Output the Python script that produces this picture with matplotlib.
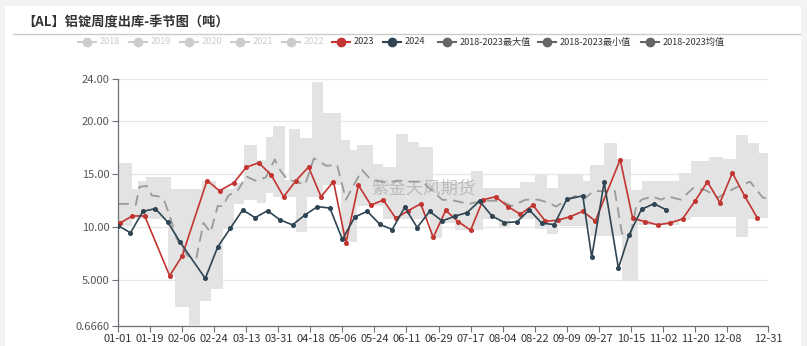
import matplotlib
matplotlib.use('Agg')
import matplotlib.pyplot as plt
import pandas as pd
from matplotlib.lines import Line2D
from matplotlib.patches import Rectangle

plt.rcParams['font.family'] = ['Noto Sans CJK SC', 'DejaVu Sans']

# ---- data ----
dates_2023 = ['01-02', '01-09', '01-16', '01-30', '02-06', '02-20', '02-27', '03-06', '03-13', '03-20',
              '03-27', '04-03', '04-10', '04-17', '04-24', '05-01', '05-08', '05-15', '05-22', '05-29',
              '06-05', '06-12', '06-19', '06-26', '07-03', '07-10', '07-17', '07-24', '07-31', '08-07',
              '08-14', '08-21', '08-28', '09-04', '09-11', '09-18', '09-25', '10-09', '10-16', '10-23',
              '10-30', '11-06', '11-13', '11-20', '11-27', '12-04', '12-11', '12-18', '12-25']
values_2023 = [10.38, 11.06, 11.06, 5.41, 7.28, 14.41, 13.44, 14.19, 15.66, 16.09,
               14.94, 12.88, 14.41, 15.69, 12.88, 14.31, 8.53, 13.97, 12.09, 12.56,
               10.84, 11.56, 12.22, 9.03, 11.59, 10.53, 9.72, 12.59, 12.88, 11.94,
               11.22, 12.09, 10.56, 10.66, 11.00, 11.50, 10.59, 16.38, 10.84, 10.53,
               10.22, 10.41, 10.78, 12.47, 14.28, 12.31, 15.13, 12.91, 10.88]

dates_2024 = ['01-01', '01-08', '01-15', '01-22', '01-29', '02-05', '02-19', '02-26', '03-04', '03-11',
              '03-18', '03-25', '04-01', '04-08', '04-15', '04-22', '04-29', '05-06', '05-13', '05-20',
              '05-27', '06-03', '06-10', '06-17', '06-24', '07-01', '07-08', '07-15', '07-22', '07-29',
              '08-05', '08-12', '08-19', '08-26', '09-02', '09-09', '09-18', '09-23', '09-30', '10-08',
              '10-14', '10-21', '10-28', '11-04']
values_2024 = [10.16, 9.47, 11.50, 11.75, 10.47, 8.56, 5.16, 8.13, 9.88, 11.63,
               10.90, 11.56, 10.69, 10.22, 11.16, 11.94, 11.81, 8.84, 10.97, 11.50,
               10.28, 9.78, 11.88, 9.97, 11.50, 10.59, 11.03, 11.38, 12.47, 11.06,
               10.44, 10.50, 11.63, 10.38, 10.25, 12.63, 12.97, 7.16, 14.25, 6.13,
               9.28, 11.69, 12.22, 11.63]

# 2018-2023 max / min band (step changes)
band_dates = ['01-01', '01-09', '01-12', '01-17', '01-29', '01-31', '02-02', '02-10', '02-16', '02-17',
              '02-22', '02-25', '02-29', '03-06', '03-12', '03-19', '03-24', '03-28', '04-04', '04-06',
              '04-10', '04-12', '04-16', '04-19', '04-25', '05-05', '05-10', '05-14', '05-23', '05-29',
              '06-05', '06-12', '06-18', '06-24', '06-26', '07-01', '07-08', '07-17', '07-24', '08-02',
              '08-08', '08-14', '08-22', '08-29', '09-04', '09-18', '09-22', '09-30', '10-07', '10-10',
              '10-15', '10-19', '10-21', '11-11', '11-18', '11-28', '12-06', '12-13', '12-20', '12-26',
              '12-31']
band_max = [16.1, 13.65, 14.35, 14.7, 14.7, 13.65, 13.65, 13.65, 13.65, 14.4,
            14.4, 13.65, 13.65, 14.2, 17.8, 16.35, 18.5, 19.6, 14.5, 19.25,
            19.25, 18.4, 18.4, 23.7, 20.8, 18.2, 17.3, 17.8, 16.0, 15.66,
            18.8, 18.06, 17.6, 17.6, 14.3, 14.3, 14.3, 15.3, 13.7, 13.7,
            13.7, 14.3, 15.0, 13.7, 15.0, 14.34, 15.9, 17.94, 16.4, 16.4,
            13.56, 13.56, 14.34, 15.1, 16.3, 16.6, 16.4, 18.7, 18.0, 17.0,
            17.0]
band_min = [10.1, 10.8, 10.8, 10.8, 5.4, 5.4, 2.45, 0.8, 3.0, 3.0,
            4.2, 4.2, 9.8, 12.2, 12.6, 12.25, 13.25, 12.84, 12.84, 12.84,
            9.5, 9.5, 12.84, 12.84, 14.0, 8.56, 8.56, 12.0, 12.0, 10.8,
            10.75, 10.75, 10.75, 9.0, 9.0, 10.4, 9.7, 9.7, 10.75, 9.97,
            10.75, 10.75, 9.8, 9.34, 10.1, 10.1, 9.2, 9.2, 9.2, 4.9,
            4.9, 10.2, 10.2, 10.7, 11.0, 11.0, 11.0, 9.1, 10.8, 10.9,
            10.9]

mean_dates = ['01-01', '01-08', '01-11', '01-13', '01-17', '01-20', '01-24', '01-27', '01-30', '02-03',
              '02-09', '02-14', '02-18', '02-22', '02-26', '02-29', '03-03', '03-08', '03-13', '03-18',
              '03-24', '03-29', '04-01', '04-05', '04-10', '04-15', '04-20', '04-27', '05-03', '05-08',
              '05-17', '05-22', '05-31', '06-06', '06-13', '06-20', '06-25', '07-01', '07-08', '07-16',
              '07-24', '08-03', '08-09', '08-17', '08-24', '08-30', '09-03', '09-09', '09-14', '09-19',
              '09-24', '09-29', '10-06', '10-10', '10-15', '10-18', '10-21', '10-27', '11-01', '11-05',
              '11-12', '11-19', '11-26', '12-03', '12-09', '12-15', '12-21', '12-28', '12-31']
mean_vals = [12.2, 12.2, 12.1, 13.8, 13.9, 13.0, 12.9, 12.5, 11.1, 8.9,
             7.3, 7.1, 10.4, 9.5, 12.0, 12.0, 13.0, 13.4, 14.8, 14.4,
             14.7, 16.4, 15.4, 14.5, 14.3, 14.0, 16.5, 15.8, 15.9, 12.6,
             15.4, 14.5, 14.2, 14.4, 14.3, 14.3, 13.5, 12.6, 12.5, 12.2,
             12.5, 12.5, 12.0, 12.6, 12.6, 12.3, 11.95, 12.6, 12.95, 12.7,
             13.4, 13.4, 13.4, 9.4, 9.4, 12.0, 12.6, 12.9, 12.6, 12.9,
             12.6, 13.7, 13.5, 12.8, 13.4, 13.9, 14.3, 12.8, 12.7]

tick_labels = ['01-01', '01-19', '02-06', '02-24', '03-13', '03-31', '04-18', '05-06', '05-24', '06-11',
               '06-29', '07-17', '08-04', '08-22', '09-09', '09-27', '10-15', '11-02', '11-20', '12-08',
               '12-31']

legend_names = ['2018', '2019', '2020', '2021', '2022', '2023', '2024',
                '2018-2023最大值', '2018-2023最小值', '2018-2023均值']


def doy(md):
    return (pd.Timestamp('2024-' + md) - pd.Timestamp('2024-01-01')).days


RED = '#c23531'
DARK = '#2f4554'

fig = plt.figure(figsize=(8.07, 3.46), dpi=100, facecolor='#f3f3f3')
fig.patches.append(Rectangle((5 / 807, 0), 796 / 807, 1 - 6 / 346, transform=fig.transFigure,
                             facecolor='white', edgecolor='none', zorder=-10))

ax = fig.add_axes([118 / 807, 1 - 326 / 346, 650 / 807, (326 - 79) / 346])
ax.set_facecolor('none')

bx = [doy(d) for d in band_dates]
ax.fill_between(bx, band_min, band_max, step='post', color='#e3e3e3', linewidth=0, zorder=1)
ax.plot([doy(d) for d in mean_dates], mean_vals, color='#9a9a9a', lw=1.3,
        dashes=(6, 3.5), zorder=2)

ax.plot([doy(d) for d in dates_2023], values_2023, color=RED, lw=1.2, marker='o', ms=2.6, zorder=4)
ax.plot([doy(d) for d in dates_2024], values_2024, color=DARK, lw=1.2, marker='o', ms=2.6, zorder=5)

ax.text(0.47, 0.555, '紫金天风期货', transform=ax.transAxes, fontsize=12.5, color='#9a9a9a',
        alpha=0.55, ha='center', va='center', zorder=3)

ax.set_xlim(0, 365)
ax.set_ylim(0.666, 24)
ax.set_xticks([doy(t) for t in tick_labels])
ax.set_xticklabels(tick_labels)
ax.set_yticks([0.666, 5, 10, 15, 20, 24])
ax.set_yticklabels(['0.6660', '5.000', '10.00', '15.00', '20.00', '24.00'])
ax.tick_params(axis='both', labelsize=8, colors='#6e7079', length=4, width=0.8, pad=2)
ax.tick_params(axis='x', labelcolor='#333333')
ax.tick_params(axis='y', labelcolor='#555555')
ax.grid(axis='y', color='#e6e6e6', lw=0.9, zorder=0)
ax.set_axisbelow(True)
for s in ['top', 'right']:
    ax.spines[s].set_visible(False)
for s in ['left', 'bottom']:
    ax.spines[s].set_color('#6e7079')
    ax.spines[s].set_linewidth(0.9)

# title and rule
fig.text(22 / 807, 1 - 22 / 346, '【AL】铝锭周度出库-季节图（吨）', fontsize=9.5, fontweight='bold',
         color='#333333', va='center', ha='left')
fig.add_artist(Line2D([13 / 807, 800 / 807], [1 - 34 / 346] * 2, color='#cccccc', lw=1))

# legend drawn by hand
leg_icon_x = [87, 138, 189, 240, 291, 341, 392, 447, 547, 650]
leg_colors = ['#cccccc'] * 5 + [RED, DARK, '#666666', '#666666', '#666666']
leg_text_colors = ['#cccccc'] * 5 + ['#333333'] * 5
ly = 1 - 42 / 346
for name, cx, c, tc in zip(legend_names, leg_icon_x, leg_colors, leg_text_colors):
    fig.add_artist(Line2D([(cx - 9) / 807, (cx + 9) / 807], [ly, ly], color=c, lw=1.5))
    fig.add_artist(Line2D([cx / 807], [ly], color=c, marker='o', ms=6, lw=0))
    fig.text((cx + 13) / 807, ly, name, fontsize=6.6, color=tc, va='center', ha='left')

fig.savefig('out.png', dpi=100, facecolor=fig.get_facecolor())
